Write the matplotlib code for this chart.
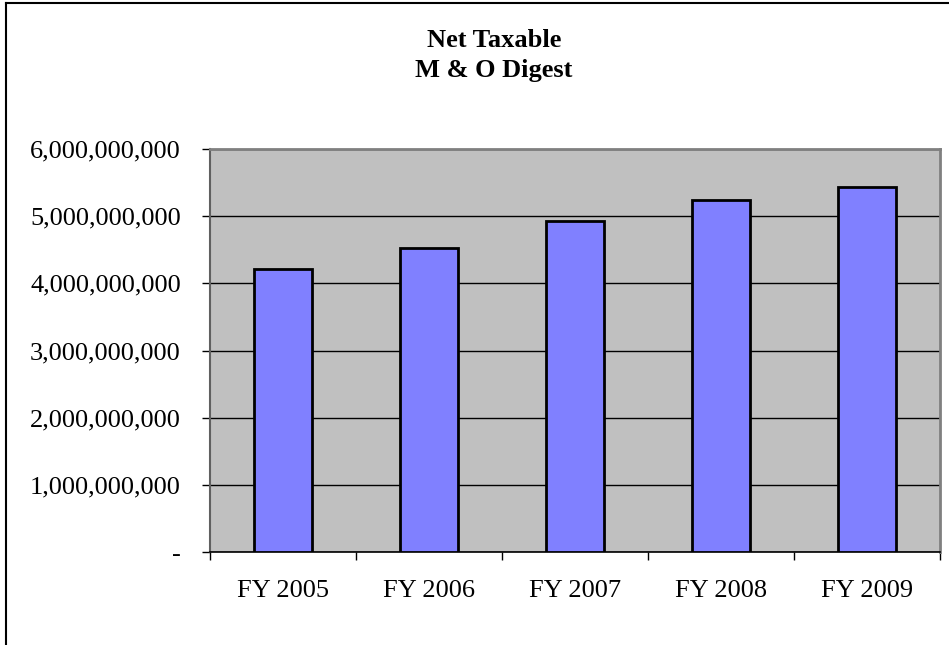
import matplotlib
matplotlib.use('Agg')
import matplotlib.pyplot as plt
from matplotlib.lines import Line2D
import numpy as np

plt.rcParams['font.family'] = ['Liberation Serif', 'DejaVu Serif']

# Data
years = ['FY 2005', 'FY 2006', 'FY 2007', 'FY 2008', 'FY 2009']
digest = [4.21e9, 4.53e9, 4.93e9, 5.24e9, 5.43e9]
yticks = [0, 1e9, 2e9, 3e9, 4e9, 5e9, 6e9]
ytick_labels = ['-', '1,000,000,000', '2,000,000,000', '3,000,000,000',
                '4,000,000,000', '5,000,000,000', '6,000,000,000']

fig = plt.figure(figsize=(9.49, 6.45), dpi=100)
W, H = 949, 645

# Plot area in pixel coordinates
left, right, top, bottom = 210, 940, 149, 552
ax = fig.add_axes([left / W, 1 - bottom / H, (right - left) / W, (bottom - top) / H])
ax.set_facecolor('#C0C0C0')

x = np.arange(len(years))
ax.bar(x, digest, width=0.4, color='#8080FF', edgecolor='black', linewidth=2, zorder=3)

ax.set_xlim(-0.5, len(years) - 0.5)
ax.set_ylim(0, 6e9)
ax.set_yticks(yticks)
ax.set_yticklabels(ytick_labels)
ax.yaxis.grid(True, color='black', linewidth=1)
ax.set_axisbelow(True)

# x ticks sit between the categories, labels centred under bars
ax.set_xticks(np.arange(-0.5, len(years), 1.0))
ax.set_xticklabels([])
ax.set_xticks(x, minor=True)
ax.set_xticklabels(years, minor=True)
ax.tick_params(axis='x', which='minor', length=0, pad=20, labelsize=19)
ax.tick_params(axis='x', which='major', length=5.5, width=1, color='black')
ax.tick_params(axis='y', length=6, width=1, pad=15, labelsize=19)

for side in ['top', 'right']:
    ax.spines[side].set_color('#808080')
    ax.spines[side].set_linewidth(2)
ax.spines['left'].set_color('#606060')
ax.spines['left'].set_linewidth(1.5)
ax.spines['bottom'].set_color('black')
ax.spines['bottom'].set_linewidth(1.2)

# Title
fig.text(494 / W, 1 - 47 / H, 'Net Taxable', ha='center', va='baseline',
         fontsize=19, fontweight='bold')
fig.text(494 / W, 1 - 77 / H, 'M & O Digest', ha='center', va='baseline',
         fontsize=19, fontweight='bold')

# Chart border (only top and left edges visible)
fig.add_artist(Line2D([6 / W, 6 / W], [0, 1 - 3 / H], color='black', linewidth=1.5,
                      transform=fig.transFigure))
fig.add_artist(Line2D([6 / W, 1], [1 - 3 / H, 1 - 3 / H], color='black', linewidth=1.5,
                      transform=fig.transFigure))

fig.savefig('out.png', dpi=100)
